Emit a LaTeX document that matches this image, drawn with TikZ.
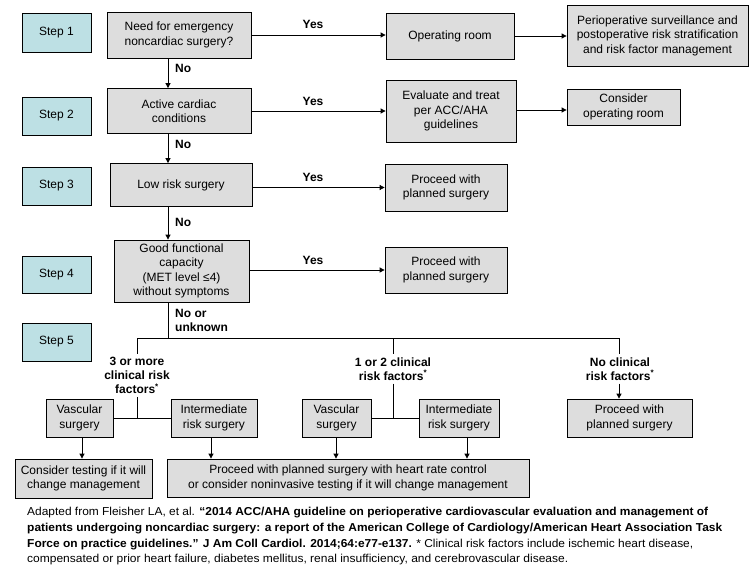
\documentclass[tikz,border=0pt]{standalone}
\usepackage{fontspec}
\setmainfont{Liberation Sans}
\usetikzlibrary{arrows.meta}
\definecolor{stepfill}{HTML}{BDE0E4}
\definecolor{boxfill}{HTML}{DDDDDD}
\begin{document}
\begin{tikzpicture}[x=1pt,y=-1pt,
  font=\fontsize{12}{14.5}\selectfont,
  stepbox/.style={draw, fill=stepfill, line width=0.8pt, inner sep=0pt, minimum width=69pt, minimum height=38pt},
  gbox/.style={draw, fill=boxfill, line width=0.8pt, inner sep=0pt, align=center},
  lbl/.style={font=\fontsize{12}{14}\selectfont\bfseries, align=center, inner sep=0pt},
  tlbl/.style={font=\fontsize{12}{14}\selectfont\bfseries, align=center, inner sep=3pt},
  arr/.style={line width=0.8pt, -{Triangle[length=5pt,width=5pt]}},
  ln/.style={line width=0.8pt},
  foot/.style={anchor=west, inner sep=0pt, font=\fontsize{11.5}{13}\selectfont}]
\useasboundingbox (0,0) rectangle (755,573);
\fill[white] (0,0) rectangle (755,573);

% step boxes
\node[stepbox, minimum height=39pt] (s1) at (56.5,32.5) {Step 1};
\node[stepbox] (s2) at (56.5,116) {Step 2};
\node[stepbox] (s3) at (56.5,186) {Step 3};
\node[stepbox, minimum height=37pt] (s4) at (56.5,274.5) {Step 4};
\node[stepbox] (s5) at (56.5,342) {Step 5};

% main column
\node[gbox, minimum width=144pt, minimum height=46pt] (b1) at (179,35) {Need for emergency\\noncardiac surgery?};
\node[gbox, minimum width=144pt, minimum height=45pt] (b2) at (179,111) {Active cardiac\\conditions};
\node[gbox, minimum width=142pt, minimum height=43pt] (b3) at (181,185) {Low risk surgery};
\node[gbox, minimum width=135pt, minimum height=62pt] (b4) at (181.5,271) {Good functional\\capacity\\(MET level ≤4)\\without symptoms};

% right side
\node[gbox, minimum width=128pt, minimum height=46pt] (o1) at (450,36) {Operating room};
\node[gbox, minimum width=181pt, minimum height=61pt] (p1) at (657.5,35.5) {Perioperative surveillance and\\postoperative risk stratification\\and risk factor management};
\node[gbox, minimum width=130pt, minimum height=62pt] (e2) at (451,111) {Evaluate and treat\\per ACC/AHA\\guidelines};
\node[gbox, minimum width=113pt, minimum height=36pt] (c2) at (623.5,107) {Consider\\operating room};
\node[gbox, minimum width=122pt, minimum height=47pt] (pr3) at (446,187.5) {Proceed with\\planned surgery};
\node[gbox, minimum width=122pt, minimum height=46pt] (pr4) at (446,270) {Proceed with\\planned surgery};

\coordinate (vx) at (168,0);
\draw[arr] (b1.south -| vx) -- (b2.north -| vx);
\draw[arr] (b2.south -| vx) -- (b3.north -| vx);
\draw[arr] (b3.south -| vx) -- (b4.north -| vx);
\node[lbl, anchor=west] (no1) at (175,68) {No};
\node[lbl, anchor=west] (no2) at (175,144) {No};
\node[lbl, anchor=west] (no3) at (175,222) {No};
\node[lbl, anchor=west, align=left] (no4) at (175,320.5) {No or\\unknown};

\draw[arr] (b1.east) -- (b1.east -| o1.west);
\draw[arr] (o1.east) -- (o1.east -| p1.west);
\draw[arr] (b2.east) -- (b2.east -| e2.west);
\draw[arr] (e2.east |- c2) ++(0,3) coordinate (e2c) (e2.east |- e2c) -- (c2.west |- e2c);
\draw[arr] (b3.east |- pr3) -- (pr3.west);
\draw[arr] (b4.east |- pr4) -- (pr4.west);
\node[lbl] (y1) at (313,24) {Yes};
\node[lbl] (y2) at (313,101) {Yes};
\node[lbl] (y3) at (313,177) {Yes};
\node[lbl] (y4) at (313,260) {Yes};

% step 5 tree
\coordinate (hl) at (137,338);
\coordinate (hm) at (393,338);
\coordinate (hr) at (619,338);
\draw[ln] (b4.south -| vx) -- (vx |- hl);
\draw[ln] (hl) -- (hr);

\node[tlbl] (L1) at (137,375.5) {3 or more\\clinical risk\\factors\textsuperscript{*}};
\node[tlbl] (L2) at (393,369) {1 or 2 clinical\\risk factors\textsuperscript{*}};
\node[tlbl] (L3) at (620,369) {No clinical\\risk factors\textsuperscript{*}};

\node[gbox, minimum width=67pt, minimum height=38pt] (v1) at (79.5,418) {Vascular\\surgery};
\node[gbox, minimum width=86pt, minimum height=38pt] (i1) at (214,418) {Intermediate\\risk surgery};
\node[gbox, minimum width=69pt, minimum height=38pt] (v2) at (336.5,418) {Vascular\\surgery};
\node[gbox, minimum width=80pt, minimum height=38pt] (i2) at (459,418) {Intermediate\\risk surgery};
\node[gbox, minimum width=125pt, minimum height=38pt] (pr5) at (629.5,418) {Proceed with\\planned surgery};
\node[gbox, minimum width=137pt, minimum height=39pt] (ct) at (83.5,478.5) {Consider testing if it will\\change management};
\node[gbox, minimum width=362pt, minimum height=38pt] (big) at (348,478) {Proceed with planned surgery with heart rate control\\or consider noninvasive testing if it will change management};

\draw[ln] (hl) -- (L1.north);
\draw[ln] (L1.south) -- (L1.south |- v1.east);
\draw[ln] (v1.east) -- (i1.west);
\draw[ln] (hm) -- (L2.north);
\draw[ln] (L2.south) -- (L2.south |- v2.east);
\draw[ln] (v2.east) -- (i2.west);
\draw[ln] (hr) -- (L3.north -| hr);
\draw[arr] (L3.south -| hr) -- (pr5.north -| hr);

\coordinate (a1) at (82,0);
\coordinate (a2) at (211,0);
\coordinate (a3) at (336,0);
\coordinate (a4) at (467,0);
\draw[arr] (v1.south -| a1) -- (ct.north -| a1);
\draw[arr] (i1.south -| a2) -- (big.north -| a2);
\draw[arr] (v2.south -| a3) -- (big.north -| a3);
\draw[arr] (i2.south -| a4) -- (big.north -| a4);

% footer
\node[foot] (f1) at (27,513) {\resizebox{681pt}{\height}{Adapted from Fleisher LA, et al. \textbf{“2014 ACC/AHA guideline on perioperative cardiovascular evaluation and management of}}};
\node[foot] (f2) at (27,529) {\resizebox{695pt}{\height}{\textbf{patients undergoing noncardiac surgery: a report of the American College of Cardiology/American Heart Association Task}}};
\node[foot] (f3) at (27,545) {\resizebox{666pt}{\height}{\textbf{Force on practice guidelines.” J Am Coll Cardiol. 2014;64:e77-e137.} * Clinical risk factors include ischemic heart disease,}};
\node[foot] (f4) at (27,560) {\resizebox{541pt}{\height}{compensated or prior heart failure, diabetes mellitus, renal insufficiency, and cerebrovascular disease.}};
\end{tikzpicture}
\end{document}
